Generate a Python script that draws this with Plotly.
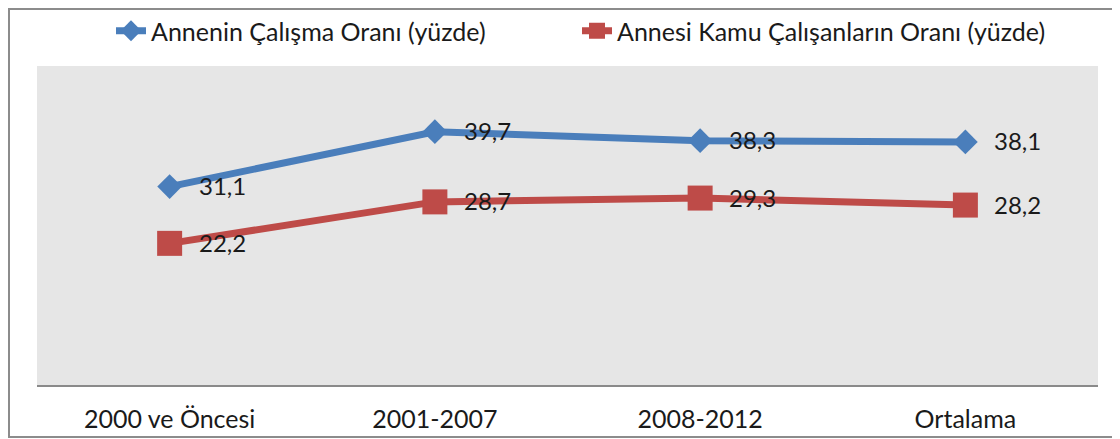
import plotly.graph_objects as go

categories = ["2000 ve Öncesi", "2001-2007", "2008-2012", "Ortalama"]
anne_calisma = [31.1, 39.7, 38.3, 38.1]
anne_kamu = [22.2, 28.7, 29.3, 28.2]
series_names = ["Annenin Çalışma Oranı (yüzde)", "Annesi Kamu Çalışanların Oranı (yüzde)"]

BLUE = "#4A7EBB"
RED = "#BE4B48"
FONT = "Lato"
TXT = "#1a1a1a"

# page has an 8px body margin; size the figure to fit within the window
W, H = 1112, 431
ML, MT, MR, MB = 29, 58, 22, 54
PW, PH = W - ML - MR, H - MT - MB


def px_to_paper_x(fx):
    return (fx - ML) / PW


def px_to_paper_y(fy):
    return (H - MB - fy) / PH


fig = go.Figure()
fig.add_trace(go.Scatter(
    x=categories, y=anne_calisma, name=series_names[0], mode="lines+markers",
    line=dict(color=BLUE, width=7),
    marker=dict(symbol="diamond", size=19, color=BLUE),
    legend="legend",
))
fig.add_trace(go.Scatter(
    x=categories, y=anne_kamu, name=series_names[1], mode="lines+markers",
    line=dict(color=RED, width=7),
    marker=dict(symbol="square", size=25, color=RED),
    legend="legend2",
))

annotations = []
for vals in (anne_calisma, anne_kamu):
    for c, v in zip(categories, vals):
        annotations.append(dict(
            x=c, y=v, xref="x", yref="y", text=f"{v:.1f}".replace(".", ","),
            showarrow=False, xanchor="left", yanchor="middle", xshift=27, yshift=1,
            font=dict(family=FONT, size=24, color=TXT),
        ))

legend_common = dict(
    orientation="h", xref="container", yref="container",
    y=1.0, xanchor="left", yanchor="top",
    font=dict(family=FONT, size=25, color=TXT),
    bgcolor="rgba(0,0,0,0)",
)

fig.update_layout(
    width=W, height=H,
    margin=dict(l=ML, r=MR, t=MT, b=MB, autoexpand=False),
    paper_bgcolor="white", plot_bgcolor="#E6E6E6",
    font=dict(family=FONT, size=25, color=TXT),
    showlegend=True,
    legend=dict(x=103 / W, **legend_common),
    legend2=dict(x=569 / W, **legend_common),
    annotations=annotations,
    shapes=[dict(
        type="rect", xref="paper", yref="paper",
        x0=px_to_paper_x(1), x1=1.05, y0=px_to_paper_y(429), y1=px_to_paper_y(1),
        line=dict(color="#8C8C8C", width=2), layer="below",
    )],
)
fig.update_xaxes(
    type="category", range=[-0.5, 3.5], showgrid=False, zeroline=False,
    showline=True, linecolor="#8A8A8A", linewidth=2,
    ticks="outside", ticklen=11, tickcolor="rgba(0,0,0,0)",
    tickfont=dict(family=FONT, size=25, color=TXT),
)
fig.update_yaxes(
    range=[0, 50], showgrid=False, zeroline=False, showticklabels=False, showline=False,
)

fig.write_html("out.html")
